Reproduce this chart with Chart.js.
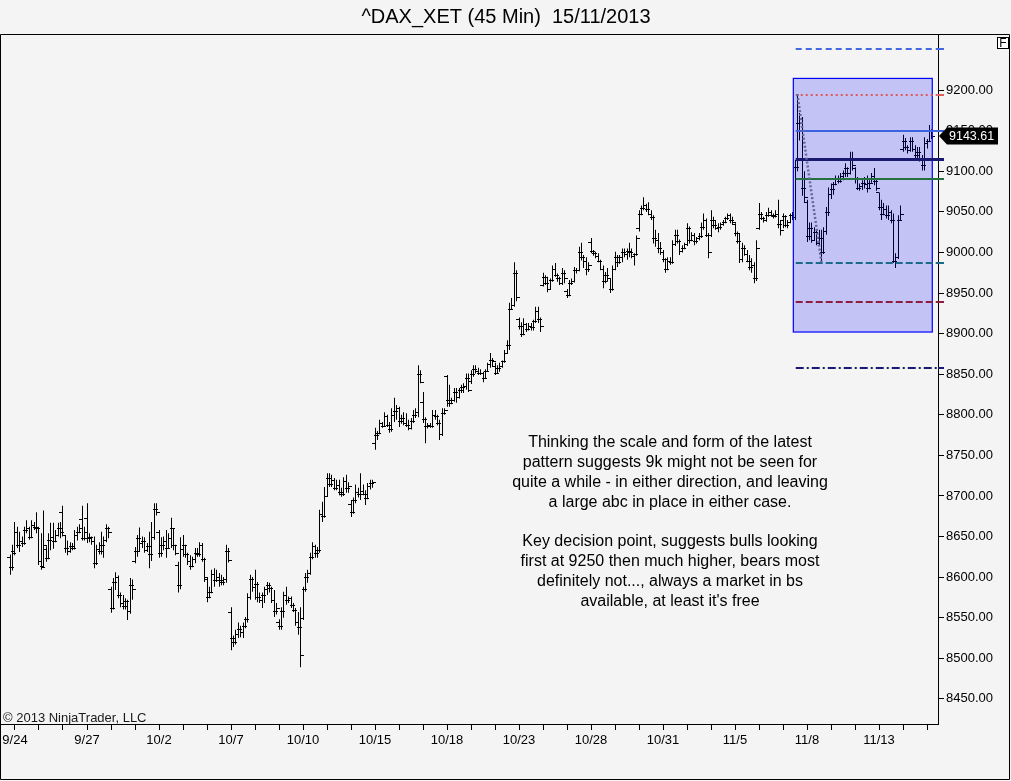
<!DOCTYPE html>
<html>
<head>
<meta charset="utf-8">
<title>^DAX_XET (45 Min) 15/11/2013</title>
<script src="https://cdn.jsdelivr.net/npm/chart.js@4.4.1/dist/chart.umd.min.js"></script>
<style>
  html, body { margin: 0; padding: 0; background: #f4f4f4; }
  #wrap { width: 1011px; height: 781px; }
</style>
</head>
<body>
<div id="wrap"><canvas id="chart" width="1011" height="781"></canvas></div>
<script>
// trading days on the time axis (one tick per day, label every third day)
const dayLabels = ['9/24', '9/25', '9/26', '9/27', '9/30', '10/1', '10/2', '10/3', '10/4',
    '10/7', '10/8', '10/9', '10/10', '10/11', '10/14', '10/15', '10/16', '10/17', '10/18',
    '10/21', '10/22', '10/23', '10/24', '10/25', '10/28', '10/29', '10/30', '10/31',
    '11/1', '11/4', '11/5', '11/6', '11/7', '11/8', '11/11', '11/12', '11/13', '11/14', '11/15'];

// price axis ticks (the 9250 tick carries no label)
const priceTicks = [8450, 8500, 8550, 8600, 8650, 8700, 8750, 8800, 8850,
    8900, 8950, 9000, 9050, 9100, 9150, 9200, 9250];

// 45 min bars, one row per day (first row = tail of 9/23, last row = 11/15 so far)
const opens = [
    8625, 8612,
    8632, 8655, 8640, 8645, 8642, 8658, 8660, 8650, 8664, 8662,
    8660, 8620, 8614, 8635, 8624, 8646, 8650, 8645, 8652, 8660,
    8680, 8652, 8636, 8632, 8638, 8636, 8652, 8656, 8672, 8648,
    8673, 8648, 8650, 8644, 8618, 8635, 8632, 8640, 8646, 8660,
    8585, 8562, 8594, 8600, 8578, 8568, 8565, 8570, 8558, 8590,
    8620, 8632, 8648, 8642, 8645, 8634, 8638, 8628, 8650, 8684,
    8655, 8630, 8640, 8645, 8636, 8648, 8660, 8640, 8615, 8590,
    8635, 8640, 8628, 8620, 8614, 8622, 8630, 8628, 8640, 8622,
    8598, 8575, 8582, 8604, 8596, 8600, 8596, 8594, 8598, 8632,
    8557, 8525, 8520, 8530, 8536, 8532, 8540, 8548, 8575, 8598,
    8588, 8592, 8575, 8572, 8578, 8585, 8590, 8586, 8572, 8558,
    8545, 8540, 8558, 8578, 8572, 8574, 8566, 8560, 8545, 8538,
    8550, 8585, 8600, 8605, 8625, 8638, 8630, 8634, 8678, 8675,
    8700, 8722, 8715, 8720, 8710, 8714, 8705, 8702, 8718, 8710,
    8690, 8680, 8695, 8705, 8702, 8706, 8703, 8698, 8712, 8716,
    8765, 8775, 8778, 8790, 8786, 8798, 8788, 8782, 8800, 8805,
    8808, 8792, 8796, 8790, 8788, 8784, 8792, 8800, 8804, 8850,
    8816, 8795, 8786, 8787, 8786, 8800, 8798, 8790, 8776, 8802,
    8848, 8818, 8815, 8818, 8828, 8822, 8830, 8834, 8836, 8845,
    8842, 8850, 8856, 8854, 8852, 8851, 8845, 8854, 8862, 8868,
    8860, 8852, 8858, 8860, 8866, 8876, 8886, 8930, 8935, 8975,
    8918, 8910, 8900, 8912, 8906, 8910, 8908, 8915, 8928, 8918,
    8960, 8970, 8962, 8955, 8966, 8980, 8972, 8968, 8962, 8975,
    8952, 8948, 8962, 8965, 8978, 8979, 9000, 8995, 8990, 8980,
    9013, 9002, 8999, 8996, 8990, 8980, 8965, 8972, 8968, 8955,
    8980, 8995, 8988, 8994, 9000, 8998, 9002, 9000, 8996, 8998,
    9030, 9048, 9055, 9058, 9054, 9048, 9044, 9018, 9016, 9006,
    9000, 8992, 8980, 8990, 8988, 9010, 9022, 9014, 9002, 9006,
    9010, 9030, 9016, 9022, 9014, 9018, 9020, 9032, 9040, 9022,
    9022, 9040, 9034, 9030, 9032, 9035, 9038, 9042, 9046, 9040,
    9035, 9024, 9014, 8992, 9005, 8998, 8990, 8982, 8985, 8968,
    9030, 9048, 9042, 9040, 9046, 9050, 9046, 9045, 9048, 9035,
    9040, 9045, 9034, 9038, 9046, 9044, 9105, 9160, 9150, 9080,
    9062, 9020, 9030, 9016, 9025, 9012, 9018, 9000, 9026, 9050,
    9072, 9078, 9084, 9090, 9088, 9094, 9098, 9104, 9098, 9115,
    9104, 9090, 9080, 9082, 9086, 9084, 9080, 9086, 9094, 9088,
    9074, 9056, 9048, 9054, 9046, 9050, 9040, 8990, 8994, 9040,
    9128, 9138, 9130, 9126, 9138, 9128, 9120, 9124, 9116, 9108,
    9135, 9138, 9150
];
const highs = [
    8628, 8640,
    8668, 8662, 8656, 8650, 8662, 8670, 8662, 8670, 8668, 8680,
    8662, 8654, 8682, 8638, 8654, 8667, 8667, 8658, 8667, 8668,
    8688, 8652, 8645, 8643, 8642, 8658, 8662, 8665, 8688, 8662,
    8691, 8654, 8650, 8650, 8640, 8643, 8656, 8650, 8665, 8662,
    8588, 8599, 8606, 8602, 8581, 8578, 8574, 8572, 8599, 8597,
    8637, 8652, 8661, 8650, 8649, 8642, 8656, 8668, 8691, 8691,
    8658, 8649, 8650, 8658, 8654, 8673, 8660, 8640, 8619, 8649,
    8652, 8640, 8630, 8627, 8625, 8636, 8636, 8643, 8642, 8624,
    8600, 8588, 8609, 8611, 8609, 8605, 8603, 8600, 8640, 8636,
    8563, 8528, 8535, 8544, 8540, 8544, 8551, 8580, 8603, 8600,
    8609, 8594, 8581, 8581, 8588, 8594, 8593, 8588, 8584, 8568,
    8548, 8563, 8582, 8588, 8576, 8576, 8568, 8562, 8557, 8563,
    8588, 8605, 8609, 8630, 8643, 8640, 8637, 8683, 8693, 8711,
    8728, 8728, 8726, 8722, 8720, 8720, 8710, 8723, 8726, 8717,
    8695, 8698, 8714, 8710, 8728, 8714, 8707, 8716, 8720, 8720,
    8784, 8780, 8794, 8791, 8803, 8800, 8791, 8808, 8821, 8812,
    8810, 8800, 8803, 8802, 8794, 8796, 8806, 8808, 8861, 8855,
    8828, 8797, 8790, 8790, 8806, 8806, 8800, 8794, 8808, 8808,
    8849, 8837, 8821, 8833, 8833, 8833, 8837, 8839, 8851, 8851,
    8855, 8861, 8861, 8858, 8856, 8853, 8856, 8864, 8876, 8870,
    8864, 8861, 8864, 8867, 8880, 8892, 8938, 8944, 8988, 8978,
    8920, 8914, 8919, 8913, 8913, 8913, 8917, 8933, 8933, 8920,
    8975, 8972, 8970, 8968, 8984, 8987, 8974, 8970, 8981, 8978,
    8955, 8966, 8968, 8982, 8981, 9007, 9012, 8997, 8994, 8988,
    9018, 9003, 9001, 8999, 8991, 8984, 8976, 8981, 8968, 8984,
    9001, 8997, 8997, 9005, 9005, 9005, 9012, 9005, 8999, 9021,
    9052, 9058, 9068, 9060, 9062, 9052, 9046, 9028, 9024, 9013,
    9003, 8993, 8994, 8994, 9015, 9028, 9028, 9016, 9009, 9012,
    9036, 9032, 9025, 9024, 9019, 9024, 9037, 9048, 9042, 9024,
    9052, 9044, 9040, 9036, 9037, 9040, 9044, 9048, 9048, 9044,
    9036, 9026, 9024, 9012, 9009, 9003, 8997, 8993, 8988, 9015,
    9061, 9050, 9044, 9050, 9055, 9052, 9048, 9052, 9065, 9040,
    9048, 9046, 9040, 9048, 9050, 9114, 9195, 9172, 9167, 9100,
    9065, 9037, 9037, 9031, 9028, 9028, 9028, 9031, 9056, 9080,
    9085, 9087, 9095, 9095, 9098, 9101, 9110, 9105, 9124, 9124,
    9105, 9093, 9085, 9089, 9093, 9095, 9089, 9098, 9104, 9090,
    9074, 9065, 9061, 9058, 9058, 9052, 9048, 8999, 9046, 9058,
    9145, 9141, 9132, 9142, 9142, 9132, 9130, 9130, 9120, 9142,
    9140, 9157, 9152
];
const lows = [
    8603, 8608,
    8627, 8636, 8631, 8637, 8640, 8654, 8646, 8648, 8658, 8654,
    8615, 8609, 8612, 8619, 8622, 8633, 8635, 8643, 8650, 8648,
    8650, 8630, 8627, 8630, 8633, 8634, 8645, 8654, 8645, 8645,
    8642, 8643, 8640, 8611, 8615, 8628, 8628, 8624, 8643, 8648,
    8556, 8560, 8584, 8574, 8563, 8560, 8560, 8547, 8555, 8572,
    8617, 8625, 8631, 8636, 8630, 8631, 8611, 8620, 8646, 8676,
    8624, 8625, 8633, 8624, 8636, 8636, 8633, 8627, 8581, 8585,
    8625, 8624, 8615, 8609, 8612, 8617, 8625, 8625, 8619, 8594,
    8569, 8574, 8580, 8588, 8594, 8588, 8590, 8590, 8593, 8618,
    8510, 8514, 8517, 8525, 8526, 8525, 8537, 8544, 8572, 8582,
    8572, 8569, 8568, 8562, 8568, 8578, 8581, 8568, 8551, 8554,
    8535, 8535, 8550, 8566, 8568, 8562, 8557, 8540, 8529, 8489,
    8547, 8582, 8593, 8603, 8622, 8624, 8624, 8630, 8668, 8673,
    8699, 8711, 8711, 8707, 8707, 8701, 8699, 8700, 8704, 8704,
    8674, 8678, 8691, 8698, 8695, 8701, 8689, 8696, 8708, 8710,
    8757, 8769, 8776, 8784, 8785, 8785, 8778, 8779, 8791, 8794,
    8785, 8789, 8787, 8785, 8781, 8782, 8790, 8796, 8797, 8839,
    8790, 8765, 8783, 8784, 8784, 8794, 8787, 8769, 8774, 8800,
    8810, 8810, 8813, 8816, 8815, 8820, 8827, 8827, 8831, 8828,
    8838, 8847, 8851, 8849, 8849, 8840, 8844, 8853, 8858, 8860,
    8849, 8851, 8853, 8858, 8864, 8876, 8880, 8929, 8933, 8940,
    8905, 8896, 8898, 8902, 8904, 8904, 8904, 8913, 8913, 8902,
    8958, 8960, 8951, 8954, 8964, 8970, 8964, 8960, 8960, 8962,
    8944, 8946, 8960, 8963, 8974, 8977, 8990, 8981, 8972, 8976,
    8999, 8996, 8993, 8988, 8978, 8956, 8962, 8964, 8950, 8953,
    8978, 8982, 8986, 8988, 8994, 8991, 8994, 8993, 8984, 8996,
    9026, 9046, 9052, 9050, 9046, 9040, 9011, 9007, 8999, 8997,
    8988, 8975, 8978, 8985, 8986, 9008, 9011, 8997, 9000, 9004,
    9008, 9011, 9014, 9009, 9011, 9015, 9018, 9028, 9019, 8993,
    9019, 9030, 9028, 9025, 9028, 9033, 9036, 9040, 9036, 9034,
    9020, 9011, 8987, 8988, 8996, 8988, 8978, 8975, 8962, 8965,
    9028, 9040, 9037, 9038, 9044, 9044, 9042, 9043, 9030, 9021,
    9030, 9031, 9030, 9036, 9040, 9040, 9100, 9138, 9070, 9062,
    9013, 9015, 9012, 9015, 9009, 9008, 8988, 8998, 9022, 9045,
    9066, 9071, 9083, 9085, 9086, 9089, 9093, 9093, 9096, 9101,
    9085, 9077, 9076, 9077, 9079, 9074, 9078, 9086, 9083, 9076,
    9052, 9040, 9046, 9042, 9040, 9036, 8987, 8981, 8992, 9040,
    9124, 9126, 9122, 9124, 9124, 9114, 9114, 9112, 9101, 9101,
    9128, 9136, 9140
];
const closes = [
    8612, 8630,
    8655, 8640, 8645, 8642, 8658, 8660, 8650, 8664, 8662, 8660,
    8620, 8612, 8640, 8624, 8646, 8650, 8645, 8652, 8660, 8655,
    8652, 8636, 8632, 8638, 8636, 8652, 8656, 8660, 8648, 8655,
    8648, 8650, 8644, 8618, 8635, 8632, 8640, 8646, 8660, 8655,
    8562, 8594, 8600, 8578, 8568, 8565, 8570, 8558, 8590, 8585,
    8632, 8648, 8642, 8645, 8634, 8638, 8628, 8650, 8684, 8680,
    8630, 8640, 8645, 8636, 8648, 8660, 8640, 8630, 8590, 8635,
    8640, 8628, 8620, 8614, 8622, 8630, 8628, 8640, 8622, 8600,
    8575, 8582, 8604, 8596, 8600, 8596, 8594, 8598, 8632, 8621,
    8525, 8520, 8530, 8536, 8532, 8540, 8548, 8575, 8598, 8588,
    8592, 8575, 8572, 8578, 8585, 8590, 8586, 8572, 8558, 8562,
    8540, 8558, 8578, 8572, 8574, 8566, 8560, 8545, 8538, 8504,
    8585, 8600, 8605, 8625, 8638, 8630, 8634, 8678, 8675, 8700,
    8722, 8715, 8720, 8710, 8714, 8705, 8702, 8718, 8710, 8712,
    8680, 8695, 8705, 8702, 8706, 8703, 8698, 8712, 8716, 8717,
    8775, 8778, 8790, 8786, 8798, 8788, 8782, 8800, 8805, 8808,
    8792, 8796, 8790, 8788, 8784, 8792, 8800, 8804, 8850, 8840,
    8795, 8786, 8787, 8786, 8800, 8798, 8790, 8776, 8802, 8806,
    8818, 8815, 8818, 8828, 8822, 8830, 8834, 8836, 8845, 8830,
    8850, 8856, 8854, 8852, 8851, 8845, 8854, 8862, 8868, 8866,
    8852, 8858, 8860, 8866, 8876, 8886, 8930, 8935, 8975, 8945,
    8910, 8900, 8912, 8906, 8910, 8908, 8915, 8928, 8918, 8910,
    8970, 8962, 8955, 8966, 8980, 8972, 8968, 8962, 8975, 8968,
    8948, 8962, 8965, 8978, 8979, 9000, 8995, 8990, 8980, 8984,
    9002, 8999, 8996, 8990, 8980, 8965, 8972, 8968, 8955, 8980,
    8995, 8988, 8994, 9000, 8998, 9002, 9000, 8996, 8998, 9018,
    9048, 9055, 9058, 9054, 9048, 9044, 9018, 9016, 9006, 9000,
    8992, 8980, 8990, 8988, 9010, 9022, 9014, 9002, 9006, 9010,
    9030, 9016, 9022, 9014, 9018, 9020, 9032, 9040, 9022, 9000,
    9040, 9034, 9030, 9032, 9035, 9038, 9042, 9046, 9040, 9037,
    9024, 9014, 8992, 9005, 8998, 8990, 8982, 8985, 8968, 9005,
    9048, 9042, 9040, 9046, 9050, 9046, 9045, 9048, 9035, 9028,
    9045, 9034, 9038, 9046, 9044, 9105, 9160, 9150, 9080, 9068,
    9020, 9030, 9016, 9025, 9012, 9018, 9000, 9026, 9050, 9072,
    9078, 9084, 9090, 9088, 9094, 9098, 9104, 9098, 9115, 9108,
    9090, 9080, 9082, 9086, 9084, 9080, 9086, 9094, 9088, 9080,
    9056, 9048, 9054, 9046, 9050, 9040, 8990, 8994, 9040, 9047,
    9138, 9130, 9126, 9138, 9128, 9120, 9124, 9116, 9108, 9135,
    9138, 9150, 9143.61
];

// drawn levels (price) and the abc drawing, in chart units
const levelPrices = [9251, 9194, 9150, 9115.5, 9091, 8987.5, 8938.5, 8858];
const boxPrices = [9214.5, 8902];
const abcPrices = [9195, 8988];

const noteLines = [
    'Thinking the scale and form of the latest',
    'pattern suggests 9k might not be seen for',
    'quite a while - in either direction, and leaving',
    'a large abc in place in either case.',
    '',
    'Key decision point, suggests bulls looking',
    'first at 9250 then much higher, bears most',
    'definitely not..., always a market in bs',
    'available, at least it\'s free'
];

// layout / styles
const barsPerDay = 10;
const firstBar = -2;          // two bars of 9/23 before the first tick
const levelStartBar = 325.3;
const boxBars = [324.3, 382.2];
const abcBars = [326, 336];
const levelStyles = [
    { color: '#4169e1', width: 2, dash: [6, 4] },
    { color: '#dc5a5a', width: 2, dash: [2, 3] },
    { color: '#3d62e0', width: 2, dash: [] },
    { color: '#191970', width: 3, dash: [] },
    { color: '#24703f', width: 2, dash: [] },
    { color: '#1b6a8a', width: 2, dash: [7, 3] },
    { color: '#8b1e3f', width: 2, dash: [7, 3] },
    { color: '#191970', width: 2, dash: [8, 3, 2, 3] }
];
const FONT = '"Liberation Sans", Arial, sans-serif';

Chart.defaults.font.family = FONT;
Chart.defaults.color = '#000';

const barX = closes.map((c, i) => i + firstBar);

// everything NinjaTrader draws around the bars
const decor = {
    id: 'decor',
    beforeDraw(chart) {
        const ctx = chart.ctx;
        ctx.save();
        ctx.fillStyle = '#f4f4f4';
        ctx.fillRect(0, 0, chart.width, chart.height);
        ctx.restore();
    },
    beforeDatasetsDraw(chart) {
        // snap the 1px high-low bars to whole pixels so they stay crisp
        chart.getDatasetMeta(0).data.forEach((bar) => {
            bar.x = Math.floor(bar.x) + 0.5;
        });
    },
    afterDatasetsDraw(chart) {
        const { ctx, chartArea: a, scales: { x, y } } = chart;
        const meta = chart.getDatasetMeta(0);
        ctx.save();

        // open (left) and close (right) ticks
        ctx.strokeStyle = '#000';
        ctx.lineWidth = 1;
        ctx.beginPath();
        meta.data.forEach((bar, i) => {
            const yo = Math.round(y.getPixelForValue(opens[i])) + 0.5;
            const yc = Math.round(y.getPixelForValue(closes[i])) + 0.5;
            ctx.moveTo(bar.x - 3.5, yo);
            ctx.lineTo(bar.x - 0.5, yo);
            ctx.moveTo(bar.x + 0.5, yc);
            ctx.lineTo(bar.x + 3.5, yc);
        });
        ctx.stroke();

        // shaded box
        const bx0 = x.getPixelForValue(boxBars[0]);
        const bx1 = x.getPixelForValue(boxBars[1]);
        const by0 = y.getPixelForValue(boxPrices[0]);
        const by1 = y.getPixelForValue(boxPrices[1]);
        ctx.fillStyle = 'rgba(0, 0, 255, 0.2)';
        ctx.fillRect(bx0, by0, bx1 - bx0, by1 - by0);
        ctx.strokeStyle = '#0000ff';
        ctx.lineWidth = 1.2;
        ctx.strokeRect(bx0, by0, bx1 - bx0, by1 - by0);

        // horizontal levels
        const lx = x.getPixelForValue(levelStartBar);
        levelPrices.forEach((p, i) => {
            const s = levelStyles[i];
            const ly = Math.round(y.getPixelForValue(p)) + (s.width % 2 ? 0.5 : 0);
            ctx.strokeStyle = s.color;
            ctx.lineWidth = s.width;
            ctx.setLineDash(s.dash);
            ctx.beginPath();
            ctx.moveTo(lx, ly);
            ctx.lineTo(a.right, ly);
            ctx.stroke();
            ctx.setLineDash([]);
            ctx.beginPath();
            ctx.moveTo(a.right, ly);
            ctx.lineTo(a.right + 6, ly);
            ctx.stroke();
        });

        // abc swing line
        ctx.strokeStyle = '#66669a';
        ctx.lineWidth = 2.5;
        ctx.setLineDash([2, 2]);
        ctx.beginPath();
        ctx.moveTo(x.getPixelForValue(abcBars[0]), y.getPixelForValue(abcPrices[0]));
        ctx.lineTo(x.getPixelForValue(abcBars[1]), y.getPixelForValue(abcPrices[1]));
        ctx.stroke();
        ctx.setLineDash([]);

        // comment text
        ctx.fillStyle = '#000';
        ctx.font = '16px ' + FONT;
        ctx.textAlign = 'center';
        ctx.textBaseline = 'middle';
        noteLines.forEach((t, i) => ctx.fillText(t, 670, 443 + i * 19.8));

        // copyright
        ctx.font = '13px ' + FONT;
        ctx.textAlign = 'left';
        ctx.textBaseline = 'alphabetic';
        ctx.fillStyle = '#1a1a1a';
        ctx.fillText('\u00a9 2013 NinjaTrader, LLC', 3, a.bottom - 2);
        ctx.restore();
    },
    afterDraw(chart) {
        const { ctx, chartArea: a, scales: { y } } = chart;
        ctx.save();

        // last price flag
        const py = y.getPixelForValue(closes[closes.length - 1]);
        const fx = a.right + 1;
        ctx.fillStyle = '#000';
        ctx.beginPath();
        ctx.moveTo(fx, py);
        ctx.lineTo(fx + 8, py - 8.5);
        ctx.lineTo(fx + 59, py - 8.5);
        ctx.lineTo(fx + 59, py + 8.5);
        ctx.lineTo(fx + 8, py + 8.5);
        ctx.closePath();
        ctx.fill();
        ctx.fillStyle = '#fff';
        ctx.font = '12.5px ' + FONT;
        ctx.textAlign = 'left';
        ctx.textBaseline = 'middle';
        ctx.fillText(closes[closes.length - 1].toFixed(2), fx + 10, py + 0.5);

        // "F" box
        ctx.fillStyle = '#fff';
        ctx.fillRect(997, 37, 12, 12);
        ctx.strokeStyle = '#000';
        ctx.lineWidth = 1;
        ctx.strokeRect(997.5, 37.5, 11, 11);
        ctx.fillStyle = '#000';
        ctx.font = '12px ' + FONT;
        ctx.textAlign = 'center';
        ctx.fillText('F', 1003, 43.5);

        // outer frame
        ctx.beginPath();
        ctx.moveTo(0.5, a.top - 0.5);
        ctx.lineTo(1009.5, a.top - 0.5);
        ctx.lineTo(1009.5, 779.5);
        ctx.lineTo(0.5, 779.5);
        ctx.closePath();
        ctx.stroke();
        ctx.restore();
    }
};

new Chart(document.getElementById('chart'), {
    type: 'bar',
    data: {
        datasets: [{
            data: barX.map((v, i) => ({ x: v, y: [lows[i], highs[i]] })),
            backgroundColor: '#000',
            borderWidth: 0,
            barThickness: 1,
            inflateAmount: 0
        }]
    },
    options: {
        responsive: false,
        animation: false,
        devicePixelRatio: 1,
        events: [],
        layout: { padding: { left: 1, top: 0, right: 0, bottom: 0 } },
        plugins: {
            legend: { display: false },
            tooltip: { enabled: false },
            title: {
                display: true,
                text: '^DAX_XET (45 Min)  15/11/2013',
                color: '#000',
                font: { size: 20, weight: 'normal' },
                padding: { top: 5, bottom: 6 }
            }
        },
        scales: {
            x: {
                type: 'linear',
                offset: false,
                min: -5.833,
                max: 384.58,
                afterBuildTicks: (scale) => {
                    scale.ticks = dayLabels.map((d, i) => ({ value: i * barsPerDay }));
                },
                afterFit: (scale) => {
                    scale.height = 57;
                    scale.paddingLeft = 0;
                    scale.paddingRight = 0;
                },
                ticks: {
                    autoSkip: false,
                    maxRotation: 0,
                    padding: 3,
                    font: { size: 13 },
                    callback: (v, i) => (i % 3 === 0 ? dayLabels[i] : '')
                },
                grid: { drawOnChartArea: false, offset: false, color: '#000', tickLength: 6 },
                border: { color: '#000' }
            },
            y: {
                position: 'right',
                min: 8419,
                max: 9268,
                afterBuildTicks: (scale) => {
                    scale.ticks = priceTicks.map((v) => ({ value: v }));
                },
                afterFit: (scale) => {
                    scale.width = 73;
                    scale.paddingTop = 0;
                    scale.paddingBottom = 0;
                },
                ticks: {
                    padding: 2,
                    font: { size: 13 },
                    callback: (v) => (v > 9200 ? '' : v.toFixed(2))
                },
                grid: { drawOnChartArea: false, color: '#000', tickLength: 6 },
                border: { color: '#000' }
            }
        }
    },
    plugins: [decor]
});
</script>
</body>
</html>
